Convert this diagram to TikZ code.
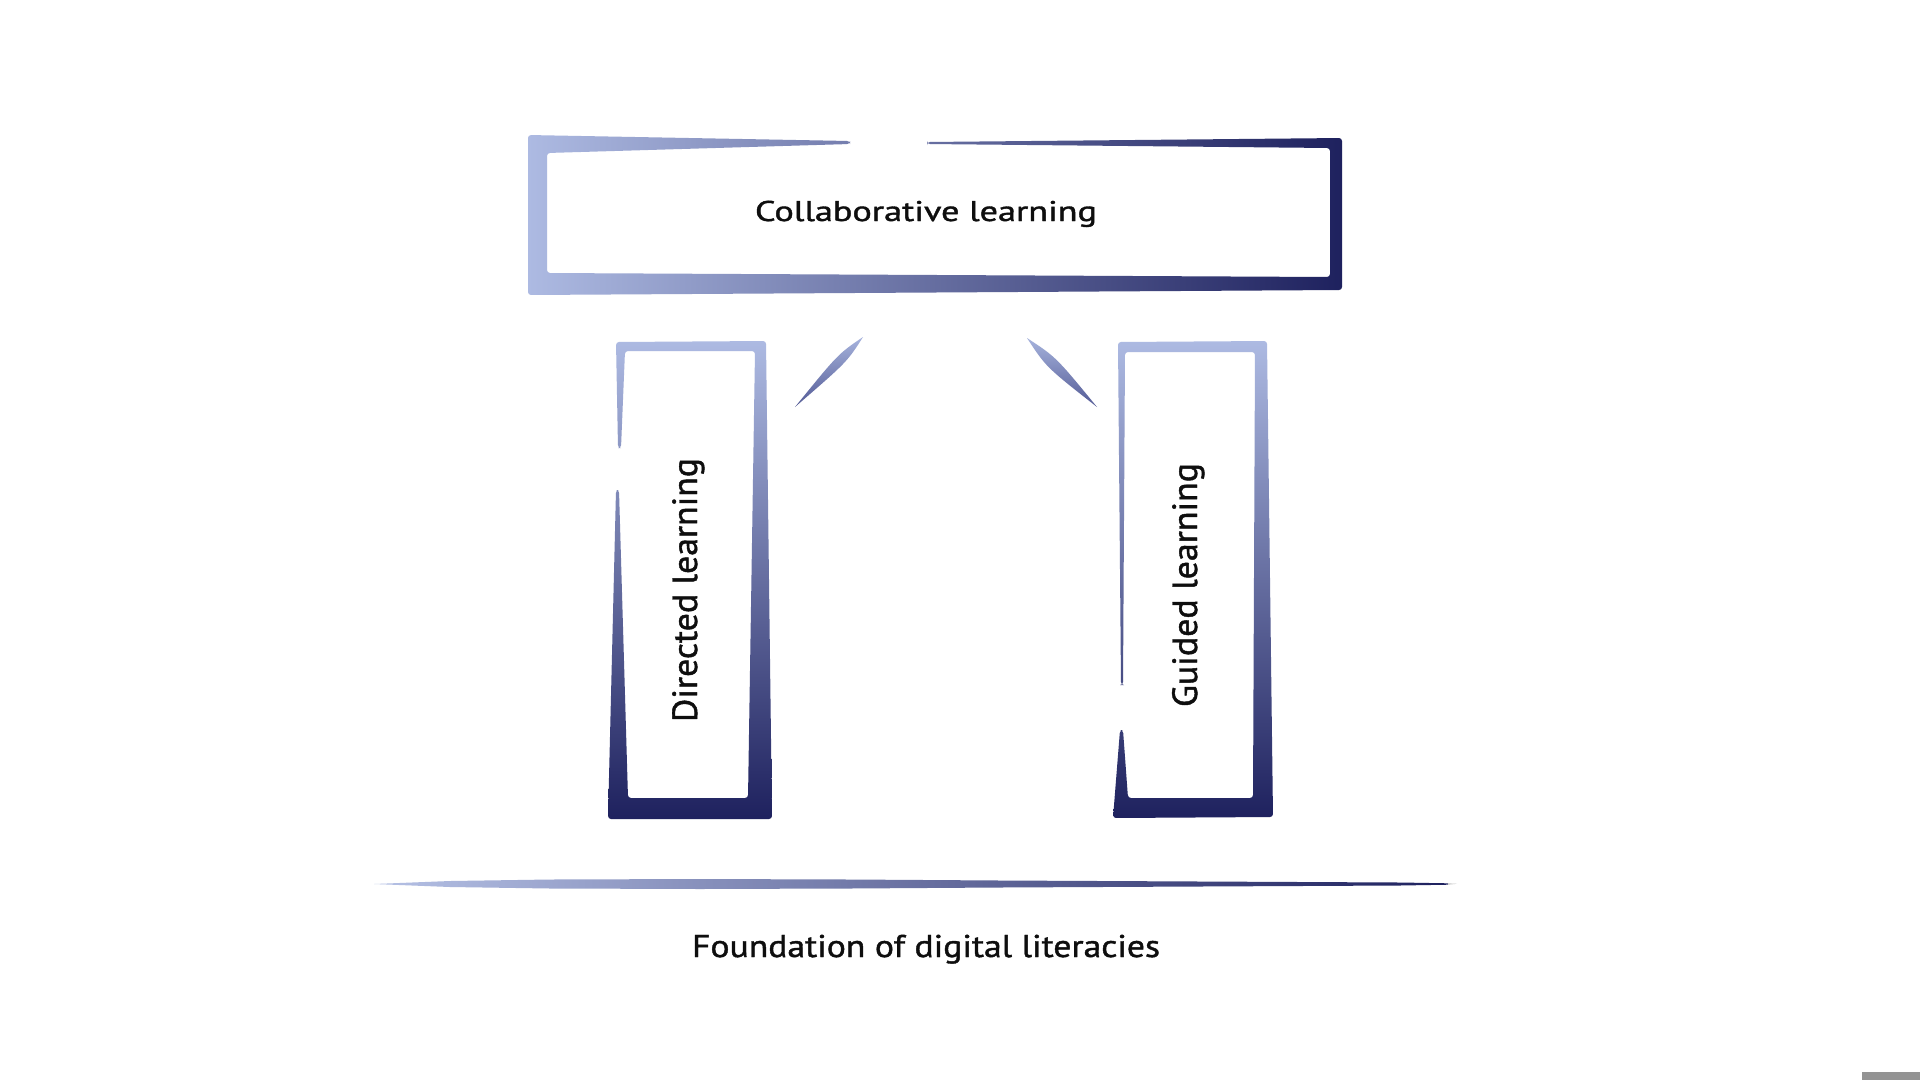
\documentclass[tikz,border=0pt]{standalone}
\usepackage{fontspec}
\setmainfont{PT Sans}
\newfontfamily\lblfont{PT Sans}[FakeBold=1.2]
\definecolor{lightb}{HTML}{ADBAE2}
\definecolor{midb}{HTML}{6A73AD}
\definecolor{darkb}{HTML}{1E215E}
\definecolor{inkc}{HTML}{0E0E0E}
\newcommand\fitw[2]{\resizebox{#1}{\height}{#2}}
\tikzset{
  hshade/.style={left color=lightb, middle color=midb, right color=darkb},
  vshade/.style={top color=lightb, middle color=midb, bottom color=darkb},
  leaf/.style={top color=lightb!90!midb, bottom color=midb!70!darkb},
  lbl/.style={text=inkc, inner sep=0pt, anchor=base},
}
\begin{document}
\begin{tikzpicture}[x=1pt,y=-1pt]
\fill[white] (0,0) rectangle (1920,1080);
\useasboundingbox (0,0) rectangle (1920,1080);

% top box frame (gap in the top edge)
\shade[hshade, rounded corners=3pt]
  (850,141) -- (528,135) -- (528,295) -- (1342,290) -- (1342,138) -- (927,142)
  -- (927,144) -- (1330,148) -- (1330,277) -- (547,273) -- (547,153) -- (850,144) -- cycle;
\node[lbl, font=\lblfont\fontsize{28.5}{34}\selectfont] (collab) at (926,221) {\fitw{342pt}{Collaborative learning}};

% left pillar (gap in the left edge)
\shade[vshade, rounded corners=3pt]
  (618,448) -- (616,342) -- (766,341) -- (772,819) -- (608,819) -- (616,490)
  -- (619,490) -- (628,798) -- (748,798) -- (755,351) -- (625,351) -- (621,448) -- cycle;
\node[lbl, rotate=90, font=\lblfont\fontsize{35}{42}\selectfont] (directed) at (697,590) {\fitw{264pt}{Directed learning}};

% right pillar (gap in the left edge)
\shade[vshade, rounded corners=3pt]
  (1121,685) -- (1118,342) -- (1267,341) -- (1273,817) -- (1113,818) -- (1120,730)
  -- (1123,730) -- (1128,798) -- (1253,798) -- (1255,352) -- (1125,352) -- (1123,685) -- cycle;
\node[lbl, rotate=90, font=\lblfont\fontsize{35}{42}\selectfont] (guided) at (1197,585) {\fitw{244pt}{Guided learning}};

% diagonal strokes
\shade[leaf] (863,337) .. controls (847,362) .. (795,407) .. controls (838,354) .. (863,337) -- cycle;
\shade[leaf] (1027,338) .. controls (1046,367) .. (1097,407) .. controls (1056,357) .. (1027,338) -- cycle;

% foundation line
\shade[left color=lightb!90!white, middle color=midb, right color=darkb]
  (374,884) -- (450,881) -- (550,879.5) -- (700,879) -- (850,879.5) -- (1000,880.5)
  -- (1200,881.5) -- (1400,882.5) -- (1448,883.3) -- (1448,884.7) -- (1400,885.5)
  -- (1200,886.5) -- (1000,887.5) -- (850,888.5) -- (700,889) -- (550,888.5) -- (450,887) -- cycle;
\fill[gray!45] (1448,883.3) -- (1457,883.8) -- (1448,884.7) -- cycle;
\node[lbl, font=\lblfont\fontsize{31.5}{38}\selectfont] (found) at (926,957) {\fitw{468pt}{Foundation of digital literacies}};

% corner mark
\fill[gray!85] (1862,1072) rectangle (1920,1080);
\end{tikzpicture}
\end{document}
